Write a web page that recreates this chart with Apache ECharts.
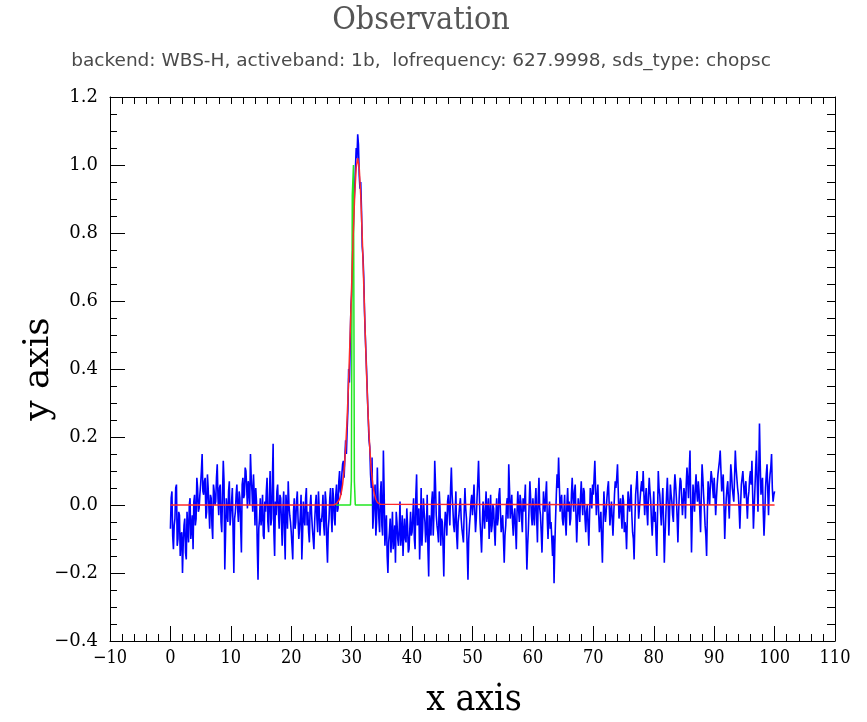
<!DOCTYPE html>
<html>
<head>
<meta charset="utf-8">
<script src="https://cdn.jsdelivr.net/npm/echarts@6/dist/echarts.min.js"></script>
<style>html,body{margin:0;padding:0;background:#fff;}#chart{width:867px;height:722px;}</style>
</head>
<body>
<div id="chart"></div>
<script>
// ---- DATA ----
const titleText = 'Observation';
const subtitleText = 'backend: WBS-H, activeband: 1b,  lofrequency: 627.9998, sds_type: chopsc';
const xAxisName = 'x axis';
const yAxisName = 'y axis';

// observed spectrum, read at x = 0, 0.25, 0.5, ... 100
const blueStart = 0;
const blueStep = 0.25;
const blueY = [
 -0.07, 0.04, -0.13, -0.04, 0.06, -0.10, -0.03, -0.09, -0.20, -0.06, -0.14, -0.02, -0.11, 0.02, -0.07, -0.13, 0.03, -0.04, 0.05, -0.01,
 0.06, 0.15, 0.03, 0.08, -0.02, 0.05, -0.07, 0.02, -0.10, 0.04, 0.01, 0.12, -0.03, 0.06, -0.08, 0.13, -0.19, 0.02, -0.05, 0.07,
 -0.03, 0.05, -0.20, -0.02, 0.06, -0.05, 0.02, -0.14, 0.08, 0.03, 0.10, -0.01, 0.05, 0.15, 0.04, 0.09, -0.06, 0.01, -0.22, -0.04,
 -0.06, 0.03, -0.10, -0.02, 0.08, -0.08, 0.10, -0.04, 0.18, -0.15, -0.03, 0.06, -0.07, 0.02, -0.12, 0.04, -0.16, -0.01, 0.07, -0.03,
 -0.08, -0.16, 0.02, -0.05, 0.04, -0.10, -0.03, -0.16, 0.01, -0.06, 0.05, -0.02, -0.11, 0.03, -0.07, -0.13, 0.00, -0.04, 0.04, -0.09,
 -0.05, 0.03, -0.09, 0.01, -0.17, -0.04, 0.05, -0.08, 0.02, -0.06, 0.06, -0.01, 0.10, 0.03, 0.12, 0.08, 0.19, 0.22, 0.40, 0.47,
 0.62, 0.80, 0.93, 1.05, 1.09, 0.97, 0.95, 0.76, 0.67, 0.50, 0.38, 0.25, 0.17, 0.05, -0.07, 0.02, -0.09, 0.11, -0.04, 0.03,
 -0.06, 0.16, -0.12, -0.03, -0.20, -0.08, -0.14, -0.02, -0.10, -0.17, -0.05, -0.12, 0.01, -0.09, -0.15, -0.04, -0.11, -0.06, -0.13, -0.02,
 -0.08, 0.02, -0.13, 0.09, -0.04, -0.16, 0.05, -0.07, -0.02, -0.11, 0.03, -0.21, -0.06, 0.01, -0.09, 0.13, -0.03, -0.08, 0.04, -0.12,
 -0.05, -0.21, -0.02, -0.09, 0.03, -0.06, 0.11, -0.01, -0.08, 0.04, -0.13, -0.03, 0.02, -0.07, -0.11, 0.05, -0.04, -0.22, -0.06, 0.01,
 -0.03, 0.06, -0.08, 0.02, 0.13, -0.05, -0.14, 0.01, -0.07, 0.04, -0.02, -0.10, 0.03, -0.06, -0.01, -0.12, 0.02, -0.04, 0.05, -0.08,
 -0.03, -0.17, -0.06, 0.02, 0.12, -0.04, 0.03, -0.09, -0.01, -0.13, 0.04, -0.05, 0.01, -0.08, -0.02, 0.06, -0.19, -0.07, 0.07, -0.03,
 0.02, -0.06, 0.05, -0.11, 0.08, -0.03, -0.14, 0.04, -0.02, 0.07, -0.10, 0.01, -0.05, -0.15, -0.23, -0.04, 0.09, 0.14, -0.02, 0.03,
 -0.06, 0.03, -0.09, 0.05, 0.01, -0.04, 0.08, -0.02, 0.06, -0.11, 0.02, -0.05, 0.07, -0.03, 0.04, -0.08, 0.00, -0.12, 0.05, -0.01,
 0.03, 0.13, -0.03, 0.06, -0.08, -0.02, -0.17, 0.04, -0.05, 0.02, 0.07, -0.06, 0.01, -0.09, 0.03, 0.05, 0.12, -0.04, 0.02, -0.07,
 0.01, -0.05, -0.13, 0.04, -0.02, 0.06, -0.08, -0.16, 0.03, 0.10, -0.04, 0.02, 0.07, 0.10, -0.03, 0.05, -0.06, 0.08, 0.01, -0.09,
 0.04, -0.02, -0.15, 0.10, 0.03, -0.06, 0.05, -0.17, -0.03, 0.08, -0.09, 0.06, 0.01, -0.05, 0.09, 0.02, -0.11, 0.04, 0.07, -0.03,
 0.05, -0.04, 0.11, 0.02, 0.16, -0.14, 0.06, -0.02, 0.09, 0.01, 0.04, -0.08, 0.12, 0.03, -0.06, -0.15, 0.07, 0.00, 0.10, 0.05,
 0.08, -0.03, 0.06, 0.11, 0.16, 0.04, 0.09, -0.10, 0.02, 0.07, -0.04, 0.12, 0.05, 0.01, 0.16, 0.08, 0.03, -0.07, 0.06, 0.10,
 0.02, 0.07, -0.04, 0.04, 0.10, 0.13, -0.07, 0.05, 0.16, -0.02, 0.24, 0.03, 0.08, -0.09, 0.05, 0.12, -0.03, 0.09, 0.15, 0.01,
 0.04
];
// observed spectrum, read at the in-between channels x = 0.125, 0.375, ... 99.875
const blueMidStart = 0.125;
const blueMidY = [
 0.02, -0.09, -0.06, 0.05, -0.12, -0.02, -0.15, -0.08, -0.11, -0.04, -0.16, -0.07, 0.00, -0.10, -0.03, 0.01, -0.06, 0.08, -0.02, 0.03,
 0.10, 0.04, 0.07, -0.04, 0.09, -0.01, 0.03, -0.06, 0.06, 0.00, 0.08, 0.02, 0.05, -0.05, 0.03, 0.07, -0.09, -0.02, 0.04, -0.06,
 0.01, -0.08, -0.04, 0.03, -0.01, 0.04, -0.06, 0.06, 0.02, 0.11, 0.05, 0.07, 0.00, 0.08, -0.02, 0.03, 0.05, -0.12, -0.07, 0.02,
 -0.03, -0.09, 0.01, 0.04, -0.05, 0.02, -0.06, 0.07, -0.08, 0.01, 0.04, -0.02, 0.03, -0.05, -0.01, -0.08, 0.03, -0.07, 0.00, -0.05,
 -0.12, -0.02, -0.07, 0.01, -0.04, -0.07, 0.03, -0.09, -0.04, 0.02, -0.06, -0.08, 0.00, -0.03, -0.10, -0.05, 0.03, -0.08, -0.01, -0.04,
 -0.02, -0.06, 0.04, -0.11, -0.07, 0.02, -0.03, 0.05, -0.04, 0.03, -0.02, 0.07, 0.04, 0.09, 0.13, 0.14, 0.15, 0.28, 0.36, 0.58,
 0.70, 0.88, 0.99, 1.02, 1.06, 0.93, 0.87, 0.73, 0.57, 0.44, 0.31, 0.19, 0.09, 0.14, -0.03, 0.06, -0.05, 0.01, -0.08, 0.07,
 -0.09, 0.04, -0.07, -0.15, -0.11, -0.04, -0.09, -0.13, -0.06, -0.02, -0.10, -0.07, -0.12, -0.03, -0.08, -0.10, -0.01, -0.14, -0.07, -0.09,
 -0.03, -0.10, 0.03, -0.06, -0.01, -0.08, -0.12, 0.02, -0.05, -0.07, -0.13, -0.03, -0.09, 0.04, -0.02, 0.06, -0.06, -0.11, -0.01, -0.04,
 -0.12, -0.07, -0.04, 0.01, -0.02, 0.05, 0.03, -0.06, -0.03, -0.09, -0.05, 0.00, -0.04, -0.09, -0.02, -0.01, -0.13, -0.10, -0.03, 0.03,
 0.01, -0.02, -0.04, 0.07, 0.04, -0.09, -0.06, -0.03, -0.01, -0.05, 0.02, -0.04, -0.08, 0.00, -0.07, -0.03, -0.06, 0.03, -0.02, -0.05,
 -0.10, -0.09, 0.00, -0.04, 0.05, -0.01, -0.05, -0.03, -0.07, -0.02, -0.01, 0.03, -0.04, 0.02, 0.01, -0.09, -0.12, 0.00, 0.02, -0.06,
 -0.03, 0.01, -0.04, 0.02, -0.01, -0.08, -0.05, 0.00, 0.03, -0.04, -0.03, -0.07, -0.10, -0.09, -0.12, 0.03, 0.05, 0.06, 0.01, -0.04,
 -0.02, -0.05, 0.00, -0.02, -0.06, 0.03, 0.02, 0.04, -0.03, -0.04, -0.01, 0.02, 0.01, 0.05, -0.04, -0.02, -0.06, -0.03, 0.02, 0.06,
 0.08, 0.05, 0.02, -0.02, -0.05, -0.10, -0.06, -0.01, -0.02, 0.05, 0.00, -0.02, -0.04, -0.03, 0.07, 0.08, 0.04, -0.01, -0.03, 0.03,
 -0.08, -0.07, -0.04, 0.01, 0.02, -0.03, -0.10, -0.05, 0.06, 0.03, -0.01, 0.05, 0.04, 0.03, 0.02, -0.02, 0.03, 0.04, -0.05, -0.03,
 -0.05, -0.09, -0.03, 0.05, -0.02, 0.00, -0.05, -0.09, 0.03, 0.01, -0.02, 0.03, -0.03, 0.04, 0.06, -0.04, -0.02, 0.08, 0.02, 0.01,
 0.03, 0.06, 0.07, 0.10, 0.00, -0.03, 0.02, 0.05, 0.04, 0.07, -0.02, 0.03, 0.08, -0.01, -0.09, -0.02, 0.04, 0.06, 0.08, 0.02,
 0.03, 0.02, 0.09, 0.13, 0.10, 0.07, 0.00, -0.03, 0.05, 0.01, 0.04, 0.09, 0.03, 0.08, 0.11, 0.05, -0.01, 0.00, 0.08, 0.06,
 0.05, 0.01, 0.02, 0.08, 0.06, 0.03, -0.01, 0.11, 0.07, 0.09, 0.12, 0.06, -0.02, -0.03, 0.09, 0.04, 0.06, 0.11, 0.05, 0.03
];

// fitted profile (red)
const redX = [0, 27, 27.25, 27.5, 27.75, 28, 28.25, 28.5, 28.75, 29, 29.25, 29.5, 29.75, 30, 30.25, 30.5, 30.75, 31,
  31.25, 31.5, 31.75, 32, 32.25, 32.5, 32.75, 33, 33.25, 33.5, 33.75, 34, 34.25, 34.5, 34.75, 35, 100];
const redY = [0, 0, 0.002, 0.004, 0.008, 0.017, 0.033, 0.060, 0.103, 0.166, 0.254, 0.368, 0.502, 0.648, 0.790, 0.911, 0.992, 1.020,
  0.992, 0.911, 0.790, 0.648, 0.502, 0.368, 0.254, 0.166, 0.103, 0.060, 0.033, 0.017, 0.008, 0.004, 0.002, 0, 0];

// narrow component (green)
const greenX = [27.4, 29.8, 29.95, 30.1, 30.3, 30.45, 30.6, 33.4];
const greenY = [0, 0, 0.07, 0.91, 1.0, 0.07, 0, 0];

// axes
const xMin = -10, xMax = 110, xInterval = 10;
const yMin = -0.4, yMax = 1.2, yInterval = 0.2;

// ---- CHART ----
const bluePairs = blueY.map((v, i) => [blueStart + i * blueStep, v])
  .concat(blueMidY.map((v, i) => [blueMidStart + i * blueStep, v]))
  .sort((a, b) => a[0] - b[0]);
const redPairs = redX.map((x, i) => [x, redY[i]]);
const greenPairs = greenX.map((x, i) => [x, greenY[i]]);

const chart = echarts.init(document.getElementById('chart'), null, {renderer: 'canvas'});
const axisLineStyle = {color: '#000', width: 1};
const fmtY = v => (v < 0 ? '\u2212' : '') + Math.abs(v).toFixed(1);
const fmtX = v => (v < 0 ? '\u2212' : '') + Math.abs(v);

chart.setOption({
  animation: false,
  backgroundColor: '#ffffff',
  grid: {left: 110, right: 32, top: 97, bottom: 81, containLabel: false},
  xAxis: [
    {type: 'value', min: xMin, max: xMax, interval: xInterval, position: 'bottom',
      axisLine: {show: true, onZero: false, lineStyle: axisLineStyle},
      axisTick: {show: true, inside: true, length: 15, lineStyle: axisLineStyle},
      minorTick: {show: true, splitNumber: 5, length: 7, lineStyle: axisLineStyle},
      splitLine: {show: false}, minorSplitLine: {show: false},
      axisLabel: {color: '#000', fontFamily: '"DejaVu Serif Condensed", "DejaVu Serif"', fontSize: 18, margin: 8, formatter: fmtX}},
    {type: 'value', min: xMin, max: xMax, interval: xInterval, position: 'top',
      axisLine: {show: true, onZero: false, lineStyle: axisLineStyle},
      axisTick: {show: true, inside: true, length: 7, lineStyle: axisLineStyle},
      minorTick: {show: true, splitNumber: 5, length: 7, lineStyle: axisLineStyle},
      splitLine: {show: false}, axisLabel: {show: false}}
  ],
  yAxis: [
    {type: 'value', min: yMin, max: yMax, interval: yInterval, position: 'left',
      axisLine: {show: true, onZero: false, lineStyle: axisLineStyle},
      axisTick: {show: true, inside: true, length: 15, lineStyle: axisLineStyle},
      minorTick: {show: true, splitNumber: 4, length: 7, lineStyle: axisLineStyle},
      splitLine: {show: false},
      axisLabel: {color: '#000', fontFamily: '"DejaVu Serif"', fontSize: 18, margin: 12, formatter: fmtY}},
    {type: 'value', min: yMin, max: yMax, interval: yInterval, position: 'right',
      axisLine: {show: true, onZero: false, lineStyle: axisLineStyle},
      axisTick: {show: true, inside: true, length: 8, lineStyle: axisLineStyle},
      minorTick: {show: true, splitNumber: 4, length: 8, lineStyle: axisLineStyle},
      splitLine: {show: false}, axisLabel: {show: false}}
  ],
  graphic: [
    {type: 'text', x: 421, y: 21, style: {text: titleText, textAlign: 'center', textVerticalAlign: 'middle',
      font: '32px "DejaVu Serif Condensed", "DejaVu Serif"', fill: '#555'}},
    {type: 'text', x: 421, y: 61, style: {text: subtitleText, textAlign: 'center', textVerticalAlign: 'middle',
      font: '18.5px "DejaVu Sans", sans-serif', fill: '#4a4a4a'}},
    {type: 'text', x: 474, y: 700, style: {text: xAxisName, textAlign: 'center', textVerticalAlign: 'middle',
      font: '37px "DejaVu Serif Condensed", "DejaVu Serif"', fill: '#000'}},
    {type: 'text', x: 39, y: 369, rotation: Math.PI / 2, style: {text: yAxisName, textAlign: 'center', textVerticalAlign: 'middle',
      font: '36px "DejaVu Serif", serif', fill: '#000'}}
  ],
  series: [
    {type: 'line', xAxisIndex: 0, yAxisIndex: 0, data: bluePairs, showSymbol: false, symbol: 'none',
      lineStyle: {color: '#0000ff', width: 1.6}, z: 2},
    {type: 'line', xAxisIndex: 0, yAxisIndex: 0, data: greenPairs, showSymbol: false, symbol: 'none',
      lineStyle: {color: '#22e622', width: 1.5}, z: 3},
    {type: 'line', xAxisIndex: 0, yAxisIndex: 0, data: redPairs, showSymbol: false, symbol: 'none',
      lineStyle: {color: '#ff2a2a', width: 1.5}, z: 4}
  ]
});
</script>
</body>
</html>
